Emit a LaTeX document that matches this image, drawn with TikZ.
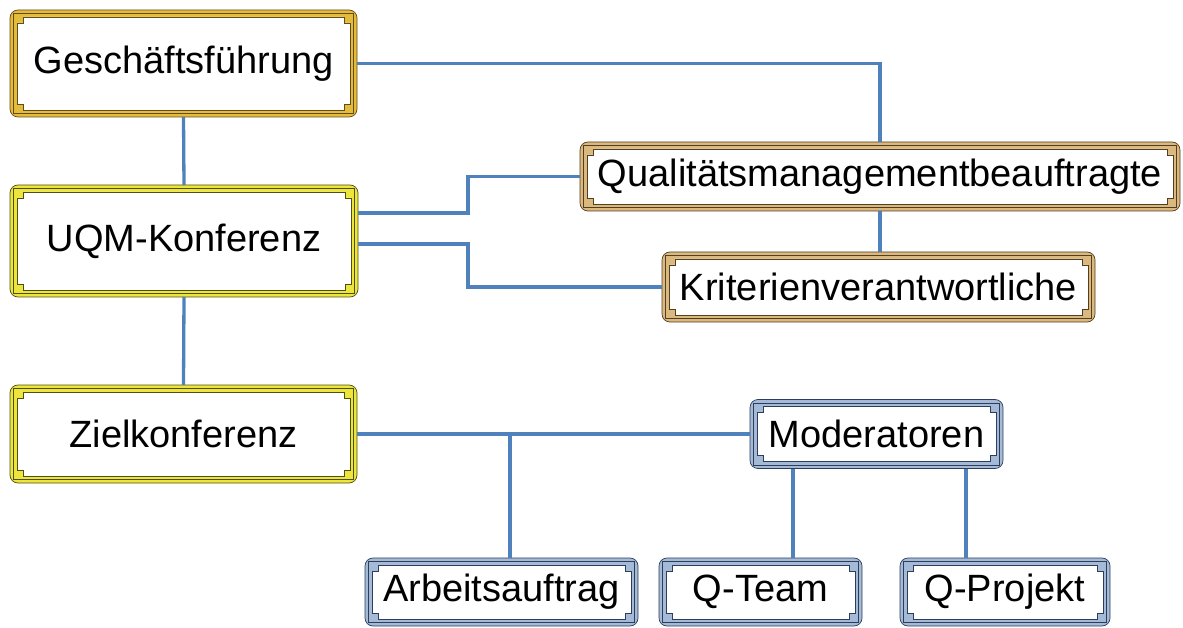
\documentclass[tikz,border=0pt]{standalone}
\usepackage{fontspec}
\setmainfont{Liberation Sans}
\usetikzlibrary{calc}
\pgfdeclarelayer{background}
\pgfsetlayers{background,main}
\definecolor{gfband}{RGB}{228,188,60}
\definecolor{gfline}{RGB}{100,75,25}
\definecolor{yband}{RGB}{236,230,60}
\definecolor{yline}{RGB}{80,78,20}
\definecolor{tband}{RGB}{218,185,128}
\definecolor{tline}{RGB}{85,62,30}
\definecolor{bband}{RGB}{165,186,214}
\definecolor{bline}{RGB}{45,62,92}
\definecolor{connblue}{RGB}{79,129,189}
\newcommand\decoframe[3]{%
  \fill[#2, draw=#3, line width=0.7pt, rounded corners=8pt] (#1.north west) rectangle (#1.south east);
  \draw[#3, line width=0.5pt] ($(#1.north west)+(3.5,3.5)$) rectangle ($(#1.south east)+(-3.5,-3.5)$);
  \filldraw[fill=white, draw=#3, line width=0.7pt]
    ($(#1.north west)+(13,7)$) -- ($(#1.north east)+(-13,7)$) -- ($(#1.north east)+(-13,13)$) -- ($(#1.north east)+(-7,13)$)
    -- ($(#1.south east)+(-7,-13)$) -- ($(#1.south east)+(-13,-13)$) -- ($(#1.south east)+(-13,-7)$)
    -- ($(#1.south west)+(13,-7)$) -- ($(#1.south west)+(13,-13)$) -- ($(#1.south west)+(7,-13)$)
    -- ($(#1.north west)+(7,13)$) -- ($(#1.north west)+(13,13)$) -- cycle;
}
\tikzset{
  box/.style={inner sep=0pt, outer sep=0pt, text=black, font=\fontsize{38pt}{40pt}\selectfont},
  conn/.style={draw=connblue, line width=3.3pt},
}
\begin{document}
\begin{tikzpicture}[x=1pt,y=-1pt]
\useasboundingbox (0,0) rectangle (1183,628);
\node[box, minimum width=347pt, minimum height=107pt] (gf) at (183.5,63.5) {Geschäftsführung};
\node[box, minimum width=348pt, minimum height=112pt] (uqm) at (184,241) {UQM-Konferenz};
\node[box, minimum width=347pt, minimum height=98pt] (ziel) at (183.5,434) {Zielkonferenz};
\node[box, minimum width=600pt, minimum height=69pt] (qm) at (880,176.5) {Qualitätsmanagementbeauftragte};
\node[box, minimum width=433pt, minimum height=70pt] (kv) at (878.5,287) {Kriterienverantwortliche};
\node[box, minimum width=253pt, minimum height=69pt] (mod) at (876.5,434) {Moderatoren};
\node[box, minimum width=273pt, minimum height=68pt] (arb) at (501.5,592) {Arbeitsauftrag};
\node[box, minimum width=203pt, minimum height=68pt] (qt) at (760.5,592) {Q-Team};
\node[box, minimum width=210pt, minimum height=68pt] (qp) at (1005,592) {Q-Projekt};
\begin{pgfonlayer}{background}
\fill[white] (0,0) rectangle (1183,628);
\decoframe{gf}{gfband}{gfline}
\decoframe{uqm}{yband}{yline}
\decoframe{ziel}{yband}{yline}
\decoframe{qm}{tband}{tline}
\decoframe{kv}{tband}{tline}
\decoframe{mod}{bband}{bline}
\decoframe{arb}{bband}{bline}
\decoframe{qt}{bband}{bline}
\decoframe{qp}{bband}{bline}
\end{pgfonlayer}
\draw[conn] (gf.east) -| (qm.north);
\draw[conn] (gf.south) -- (uqm.north);
\draw[conn] ($(uqm.east)+(0,-28)$) -- ++(110,0) |- (qm.west);
\draw[conn] ($(uqm.east)+(0,3)$) -- ++(110,0) |- (kv.west);
\draw[conn] (qm.south) -- (qm.south |- kv.north);
\draw[conn] (uqm.south) -- (ziel.north);
\draw[conn] (ziel.east) -- (mod.west);
\coordinate (j) at (510,434);
\draw[conn] (j) -- (j |- arb.north);
\coordinate (m1) at ($(mod.south)+(-83.5,0)$);
\coordinate (m2) at ($(mod.south)+(89.5,0)$);
\draw[conn] (m1) -- (m1 |- qt.north);
\draw[conn] (m2) -- (m2 |- qp.north);
\end{tikzpicture}
\end{document}
